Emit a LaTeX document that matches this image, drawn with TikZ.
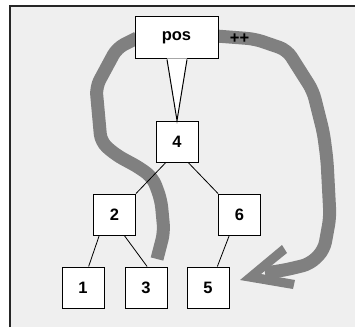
\documentclass[tikz,border=0pt]{standalone}
\usepackage{fontspec}
\setmainfont{Liberation Sans}
\usepackage{xcolor}
\usepackage{tikz}
\usetikzlibrary{trees}
\definecolor{panelgray}{HTML}{EFEFEF}
\definecolor{bandgray}{HTML}{808080}

\begin{document}
\begin{tikzpicture}
            [
                x=1pt, y=1pt,
                level distance=73pt,
                level 1/.style={sibling distance=125pt},
                level 2/.style={sibling distance=63pt},
                edge from parent/.style={draw, line width=0.8pt},
                font=\bfseries\fontsize{16.5}{20}\selectfont
            ]
            \tikzset{
                treenode/.style = {rectangle, draw=black, fill=white, line width=1pt, minimum width=42pt, minimum height=41pt, inner sep=0pt},
                bubble/.style = {treenode, minimum width=83pt, minimum height=42pt},
                band/.style = {draw=bandgray, line width=13pt, rounded corners=8pt, line join=round},
                pointer/.style = {draw=black, line width=1pt, line join=miter}
            }
            \useasboundingbox (0,0) rectangle (355,327);
            % panel
            \fill[panelgray] (10,0) rectangle (355,321);
            \draw[line width=1.3pt, black!85] (10,0) -- (10,321) -- (355,321);
            % gray bands
            \draw[band] (137,289) -- (117,279) -- (96,240) -- (101,185) -- (116,172) -- (140,159)
                -- (153,149) -- (161,127) -- (164,95) -- (157,68);
            \draw[band] (216,291) -- (255,288) -- (287,277) -- (313,236) -- (323.5,194) -- (327,167)
                -- (330,110) -- (324,77) -- (310,63) -- (285,57) -- (265,54);
            \fill[bandgray] (240,47) -- (282,82) -- (287,74) -- (261,53) -- (295,47) -- (293,38) -- cycle;
            % tree
            \node [treenode] (n4) at (177,185.5) {4}
            child[edge from parent path={(\tikzparentnode.242) -- (\tikzchildnode.north east)}] { node[treenode] (n2) {2}
                    child[edge from parent path={(\tikzparentnode.234) -- (\tikzchildnode.75)}] { node[treenode] (n1) {1} }
                    child[edge from parent path={(\tikzparentnode.295) -- (\tikzchildnode.87)}] { node[treenode] (n3) {3} }
                }
            child[edge from parent path={(\tikzparentnode.298) -- (\tikzchildnode.north west)}] { node[treenode] (n6) {6}
                    child[edge from parent path={(\tikzparentnode.244) -- (\tikzchildnode.66)}] { node[treenode] (n5) {5} }
                    child[missing]
                }
            ;
            % pos bubble
            \node [bubble] (pos) at (176.5,289) {pos};
            \fill[white] ([xshift=-9.5pt,yshift=1pt]pos.south) -- (n4.north) -- ([xshift=10.5pt,yshift=1pt]pos.south) -- cycle;
            \draw[pointer] ([xshift=-9.5pt]pos.south) -- (n4.north) -- ([xshift=10.5pt]pos.south);
            \node (inc) at (239.5,288) {++};
        \end{tikzpicture}
\end{document}
